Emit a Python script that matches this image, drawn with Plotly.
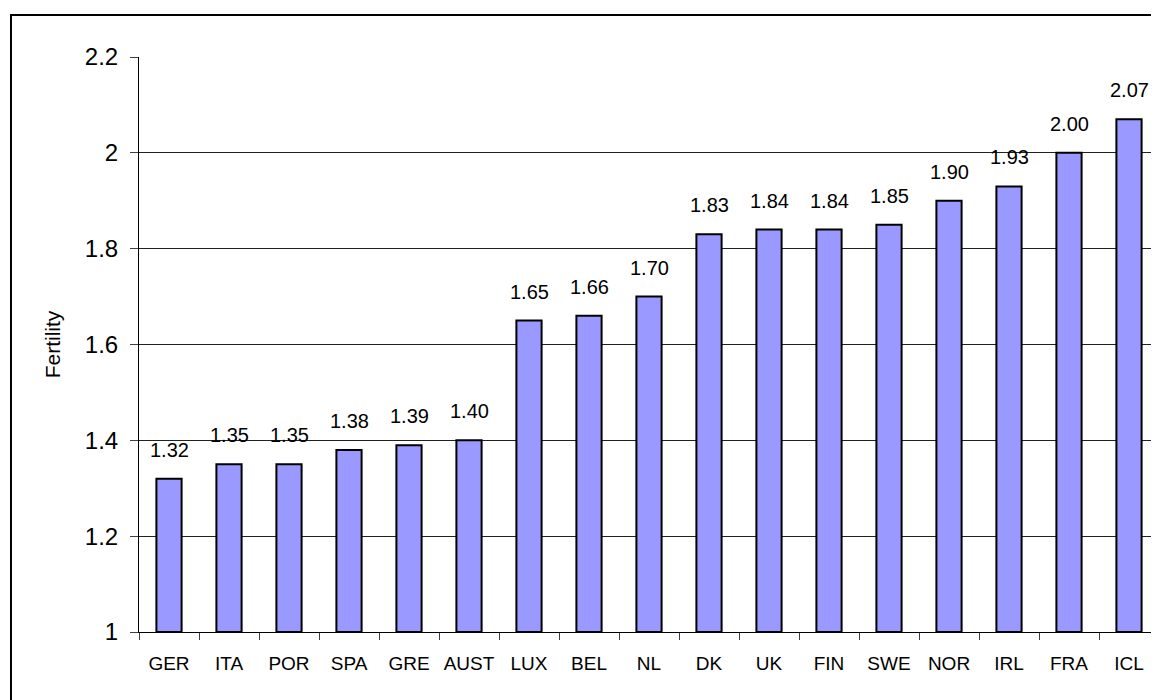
import plotly.graph_objects as go

countries = ["GER", "ITA", "POR", "SPA", "GRE", "AUST", "LUX", "BEL", "NL",
             "DK", "UK", "FIN", "SWE", "NOR", "IRL", "FRA", "ICL"]
fertility = [1.32, 1.35, 1.35, 1.38, 1.39, 1.40, 1.65, 1.66, 1.70,
             1.83, 1.84, 1.84, 1.85, 1.90, 1.93, 2.00, 2.07]
y_ticks = [1, 1.2, 1.4, 1.6, 1.8, 2, 2.2]

font = "Arial, 'Liberation Sans', sans-serif"

fig = go.Figure()
# bars start at 1, so heights are relative to that base
fig.add_trace(go.Bar(
    x=countries, y=[v - 1 for v in fertility], base=1, width=0.42,
    marker=dict(color='#9999ff', line=dict(color='black', width=2)),
    showlegend=False,
))

for c, v in zip(countries, fertility):
    fig.add_annotation(x=c, y=v, text=f"{v:.2f}", showarrow=False,
                       yanchor='bottom', yshift=16,
                       font=dict(family=font, size=20, color='black'))

# outer chart border
fig.add_shape(type='rect', xref='paper', yref='paper',
              x0=-0.1255, x1=1.05, y0=-0.2, y1=1.073,
              line=dict(color='black', width=2), layer='below')

fig.update_xaxes(
    tickson='boundaries', ticks='outside', ticklen=7, tickcolor='#404040',
    showline=True, linecolor='black', linewidth=1,
    tickfont=dict(family=font, size=19, color='black'), tickangle=0,
    ticklabelstandoff=14, range=[-0.5, 16.5],
)
fig.update_yaxes(
    range=[1, 2.2], tickvals=y_ticks, ticktext=[str(t) for t in y_ticks],
    ticks='outside', ticklen=8, tickcolor='#404040',
    showline=True, linecolor='black', linewidth=1,
    showgrid=True, gridcolor='#202020', gridwidth=1,
    tickfont=dict(family=font, size=24, color='black'),
    ticklabelstandoff=7,
    title=dict(text='Fertility', font=dict(family=font, size=21, color='black'),
               standoff=18),
)
# page body has an 8px margin, so the figure is a bit smaller than the window
fig.update_layout(
    width=1151, height=692,
    margin=dict(l=131, r=0, t=49, b=68),
    plot_bgcolor='white', paper_bgcolor='white',
)
fig.write_html("out.html")
